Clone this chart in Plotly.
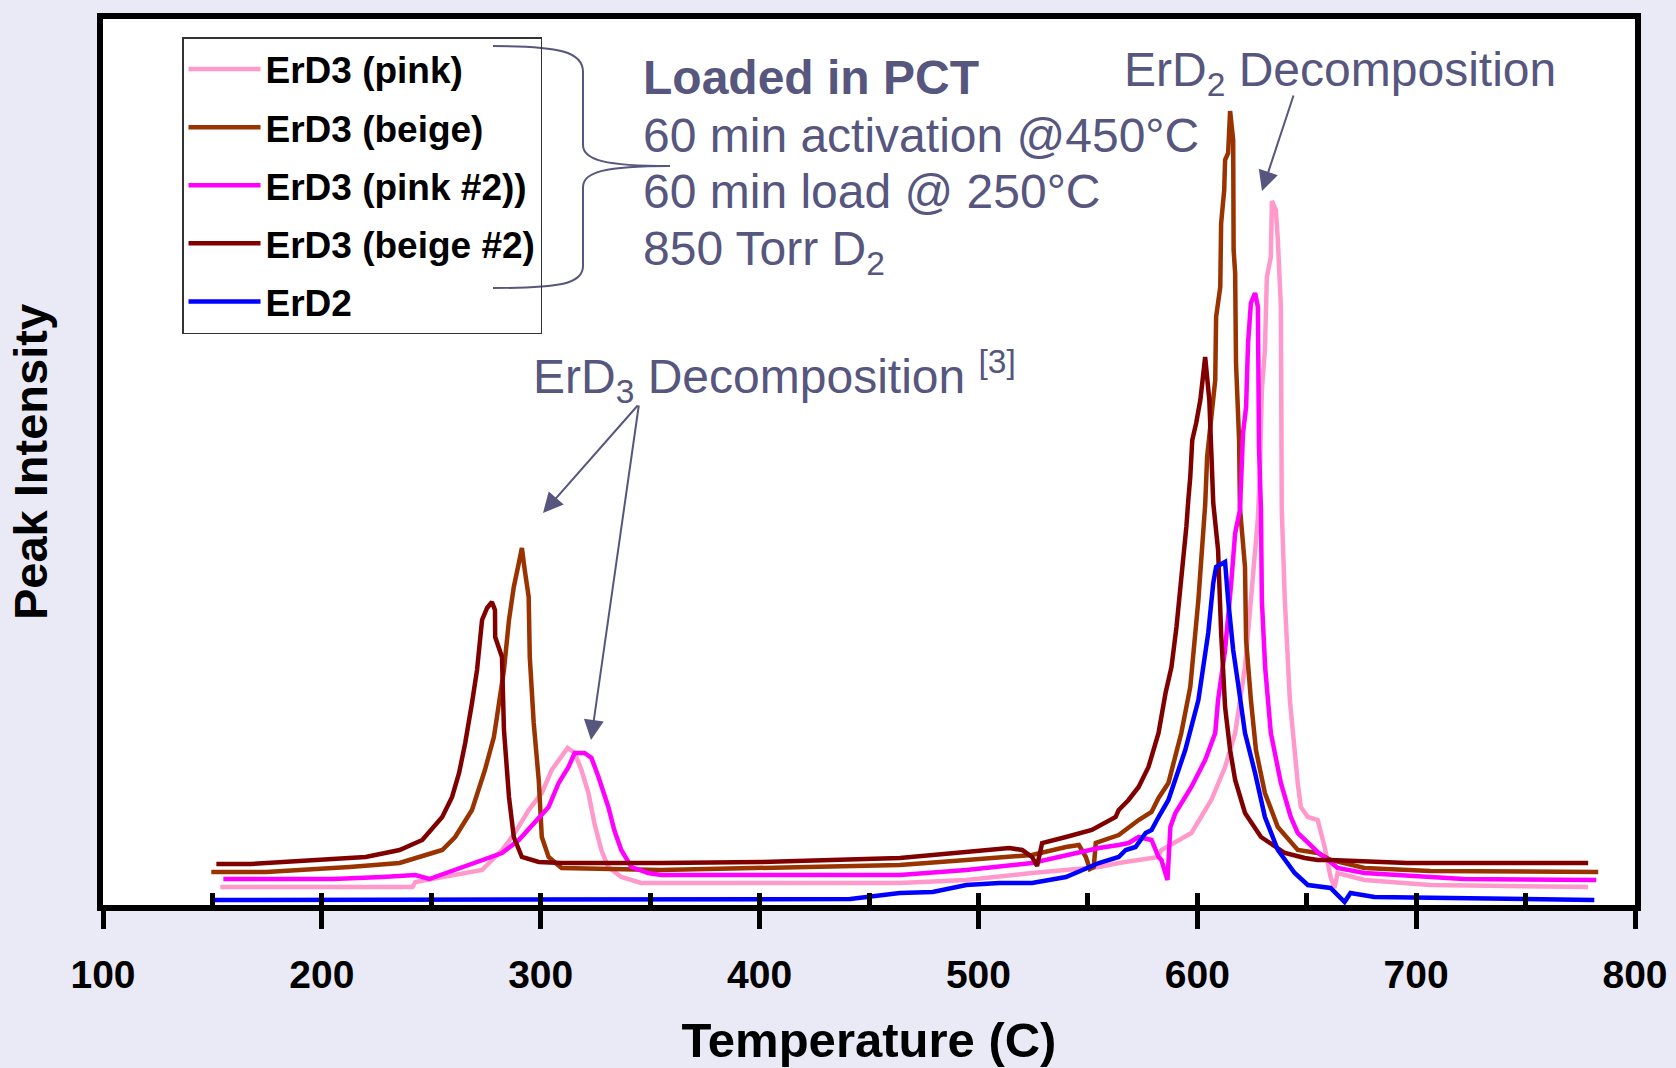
import plotly.graph_objects as go

# ---------------- data (temperature in C, peak intensity in arbitrary units) ----------------
pink_T = [153.6, 182.3, 241.4, 242.7, 255.0, 273.2, 282.3, 288.2, 294.5, 300.5, 305.0, 309.5, 312.3, 315.5,
          318.6, 321.8, 324.5, 327.7, 330.9, 336.8, 345.9, 464.1, 494.5, 524.5, 555.0, 564.1, 573.2, 582.3,
          583.6, 597.3, 606.4, 612.7, 617.3, 621.8, 624.5, 627.7, 628.6, 629.5, 630.9, 631.8, 633.6, 634.1,
          635.9, 636.8, 638.2, 638.6, 640.0, 642.3, 645.9, 647.3, 650.5, 655.0, 658.2, 660.9, 662.7, 664.1,
          676.4, 706.4, 778.6]
pink_I = [21, 21, 21, 26, 31, 38, 58, 75, 98, 115, 138, 151, 160, 155, 138, 115, 85, 58, 41, 31, 25, 25, 28,
          35, 41, 45, 48, 51, 58, 75, 108, 141, 175, 241, 308, 390, 435, 518, 558, 631, 651, 707, 698, 668,
          601, 398, 308, 208, 125, 101, 91, 88, 61, 31, 20, 35, 28, 23, 21]

beige_T = [149.5, 174.5, 212.7, 235.5, 250.5, 255.0, 260.9, 268.6, 274.5, 278.6, 280.0, 283.2, 285.5, 287.7,
           290.0, 291.4, 292.7, 294.5, 295.0, 296.8, 299.1, 300.5, 303.6, 309.5, 355.0, 464.1, 494.5, 524.5,
           540.0, 545.9, 549.1, 550.9, 552.7, 553.6, 564.1, 573.2, 579.1, 582.3, 586.8, 592.7, 596.8, 600.5,
           603.6, 604.5, 608.2, 608.6, 610.5, 610.9, 612.3, 612.7, 614.1, 615.0, 616.4, 616.6, 617.3, 617.7,
           619.1, 619.5, 621.8, 622.3, 624.5, 626.8, 630.9, 636.8, 645.9, 655.0, 660.9, 676.4, 706.4, 783.2]
beige_I = [36, 36, 41, 45, 55, 58, 71, 98, 138, 171, 191, 238, 288, 321, 345, 360, 338, 311, 251, 185, 128,
           71, 51, 40, 38, 43, 48, 53, 61, 63, 51, 39, 41, 65, 73, 88, 96, 110, 125, 175, 221, 308, 403, 451,
           528, 591, 621, 685, 718, 748, 755, 797, 768, 658, 635, 545, 468, 400, 341, 268, 208, 158, 115, 81,
           58, 55, 48, 40, 37, 36]

pink2_T = [155.0, 205.0, 227.7, 242.7, 249.1, 258.2, 270.0, 282.3, 290.0, 297.3, 303.6, 308.2, 312.7, 315.5,
           320.0, 323.2, 326.4, 330.9, 333.6, 336.8, 341.4, 349.1, 355.0, 464.1, 494.5, 524.5, 540.0, 555.0,
           564.1, 568.6, 573.2, 579.1, 582.3, 583.6, 586.4, 587.7, 590.0, 597.3, 603.6, 608.2, 609.5, 612.7,
           615.5, 617.3, 619.5, 620.2, 620.9, 622.3, 623.2, 624.5, 626.4, 627.7, 628.2, 629.1, 629.5, 631.0,
           633.6, 638.2, 642.7, 645.9, 650.5, 655.0, 660.9, 664.1, 676.4, 721.8, 782.3]
pink2_I = [29, 29, 31, 33, 29, 36, 45, 55, 68, 85, 101, 125, 141, 155, 155, 150, 131, 101, 78, 58, 41, 35, 33,
           33, 38, 45, 53, 60, 63, 65, 71, 68, 51, 48, 28, 81, 95, 121, 148, 175, 208, 258, 325, 375, 398, 448,
           475, 501, 565, 605, 615, 601, 461, 398, 308, 241, 175, 125, 91, 75, 65, 56, 46, 40, 35, 29, 28]

beige2_T = [151.8, 167.3, 197.3, 220.0, 235.5, 245.9, 255.0, 259.5, 262.7, 265.5, 268.6, 270.9, 273.2, 275.5,
            277.7, 279.1, 279.2, 282.3, 283.2, 285.5, 287.7, 291.4, 299.1, 309.5, 355.0, 400.5, 464.1, 479.1,
            494.5, 514.1, 520.0, 524.5, 526.8, 529.1, 540.0, 551.8, 562.7, 564.1, 568.6, 573.2, 577.7, 582.3,
            585.5, 588.2, 590.5, 592.7, 595.0, 595.9, 596.8, 597.7, 599.5, 601.4, 603.6, 605.5, 606.4, 607.3,
            609.5, 610.9, 612.7, 615.0, 617.3, 621.8, 629.1, 640.0, 649.1, 655.0, 660.9, 695.9, 778.6]
beige2_I = [44, 44, 48, 51, 58, 68, 91, 111, 135, 165, 205, 238, 288, 300, 306, 298, 271, 251, 178, 111, 71,
            51, 46, 45, 45, 46, 50, 53, 56, 60, 58, 51, 42, 65, 71, 78, 91, 98, 108, 121, 141, 175, 215, 241,
            281, 328, 381, 408, 431, 468, 485, 508, 551, 508, 451, 405, 358, 275, 201, 158, 128, 95, 71, 55,
            50, 48, 48, 45, 45]

erd2_T = [149.5, 355.0, 400.5, 441.4, 464.1, 479.1, 494.5, 509.5, 524.5, 540.0, 555.0, 564.1, 567.3, 571.8,
          576.4, 579.1, 582.3, 586.8, 594.5, 600.5, 605.0, 607.3, 608.6, 610.5, 612.7, 614.1, 616.4, 618.6,
          621.8, 626.4, 630.9, 636.8, 644.5, 650.5, 660.9, 667.3, 670.0, 680.9, 706.4, 781.4]
erd2_I = [8, 8, 9, 9, 15, 16, 23, 25, 25, 31, 45, 51, 58, 61, 75, 78, 91, 108, 158, 208, 275, 325, 341, 343,
          346, 308, 258, 225, 175, 135, 91, 58, 35, 23, 20, 6, 15, 11, 10, 8]

series_names = ["ErD3 (pink)", "ErD3 (beige)", "ErD3 (pink #2))", "ErD3 (beige #2)", "ErD2"]
series_colors = ["#FF99CC", "#993300", "#FF00FF", "#800000", "#0000FF"]
x_ticks = [100, 200, 300, 400, 500, 600, 700, 800]

# ---------------- layout geometry ----------------
W, H = 1676, 1068
L, R, T, B = 103, 1635, 19, 905
FONT = "Liberation Sans, Arial, sans-serif"
ANN = "#56567E"


def paper(x, y):
    return (x - L) / (R - L), (B - y) / (B - T)


fig = go.Figure()
data = [(pink_T, pink_I), (beige_T, beige_I), (pink2_T, pink2_I), (beige2_T, beige2_I), (erd2_T, erd2_I)]
for i, ((tx, iy), name, col) in enumerate(zip(data, series_names, series_colors)):
    fig.add_trace(go.Scatter(
        x=tx, y=iy, mode="lines", name=name, legendgroup=f"g{i}",
        line=dict(color=col, width=4.5),
        xaxis="x2" if name == "ErD2" else "x",
    ))

annotations = []


def add_text(text, x, y, size, bold=False, anchor="middle"):
    px, py = paper(x, y)
    annotations.append(dict(
        text=f"<b>{text}</b>" if bold else text, x=px, y=py, xref="paper", yref="paper",
        xanchor="left", yanchor=anchor, showarrow=False,
        font=dict(family=FONT, size=size, color=ANN)))


add_text("Loaded in PCT", 641, 77, 48, bold=True)
add_text("60 min activation @450°C", 641, 135, 48)
add_text("60 min load @ 250°C", 641, 192, 48)
add_text("850 Torr D<sub>2</sub>", 641, 252, 48)
add_text("ErD<sub>2</sub> Decomposition", 1122, 73, 48)
add_text("ErD<sub>3</sub> Decomposition <sup>[3]</sup>", 531, 376, 48)


def add_arrow(tail, head):
    hx, hy = paper(*head)
    annotations.append(dict(
        text="", x=hx, y=hy, xref="paper", yref="paper",
        ax=tail[0] - head[0], ay=tail[1] - head[1], axref="pixel", ayref="pixel",
        showarrow=True, arrowhead=2, arrowsize=2, arrowwidth=2, arrowcolor=ANN, standoff=0))


add_arrow((1294, 94), (1262, 191))
add_arrow((639, 404), (543, 513))
add_arrow((639, 404), (591, 740))

# curly brace next to the legend
brace_px = [("M", [(493, 46)]),
            ("C", [(560, 46), (583, 52), (583, 72)]),
            ("L", [(583, 145)]),
            ("C", [(583, 160), (605, 166), (670, 166)]),
            ("C", [(605, 166), (583, 172), (583, 187)]),
            ("L", [(583, 266)]),
            ("C", [(583, 284), (560, 288), (493, 288)])]
path = ""
for cmd, pts in brace_px:
    path += cmd + " ".join(f"{paper(x, y)[0]:.5f},{paper(x, y)[1]:.5f}" for x, y in pts) + " "

lx, ly = paper(182, 37)

fig.update_layout(
    width=W, height=H,
    margin=dict(l=L, r=W - R, t=T, b=H - B, pad=0, autoexpand=False),
    paper_bgcolor="#EAEAF6", plot_bgcolor="white",
    annotations=annotations,
    shapes=[dict(type="path", path=path.strip(), xref="paper", yref="paper",
                 line=dict(color=ANN, width=2))],
    legend=dict(x=lx, y=ly, xanchor="left", yanchor="top",
                bgcolor="rgba(255,255,255,0)", bordercolor="#333333", borderwidth=1.5,
                font=dict(family=FONT, size=37, color="black", weight="bold"),
                itemwidth=72, tracegroupgap=7, traceorder="grouped"),
    xaxis=dict(range=[100, 800], tickvals=x_ticks, ticktext=[str(v) for v in x_ticks],
               ticks="outside", ticklen=18, tickwidth=5, tickcolor="black",
               showline=True, linewidth=6, linecolor="black", mirror=True, automargin=False,
               showgrid=False, zeroline=False, ticklabelstandoff=12,
               tickfont=dict(family=FONT, size=39, color="black", weight="bold"),
               title=dict(text="Temperature (C)", standoff=30,
                          font=dict(family=FONT, size=49, color="black", weight="bold"))),
    xaxis2=dict(overlaying="x", matches="x", anchor="y", side="bottom", range=[100, 800],
                tick0=100, dtick=50, ticks="inside", ticklen=12, tickwidth=5, tickcolor="black",
                showticklabels=False, showline=False, showgrid=False, zeroline=False, automargin=False),
    yaxis=dict(range=[3, 889], showticklabels=False, ticks="", showgrid=False, zeroline=False,
               showline=True, linewidth=6, linecolor="black", mirror=True, automargin=False,
               title=dict(text="Peak Intensity", standoff=37,
                          font=dict(family=FONT, size=47, color="black", weight="bold"))),
)

fig.write_html("out.html")
